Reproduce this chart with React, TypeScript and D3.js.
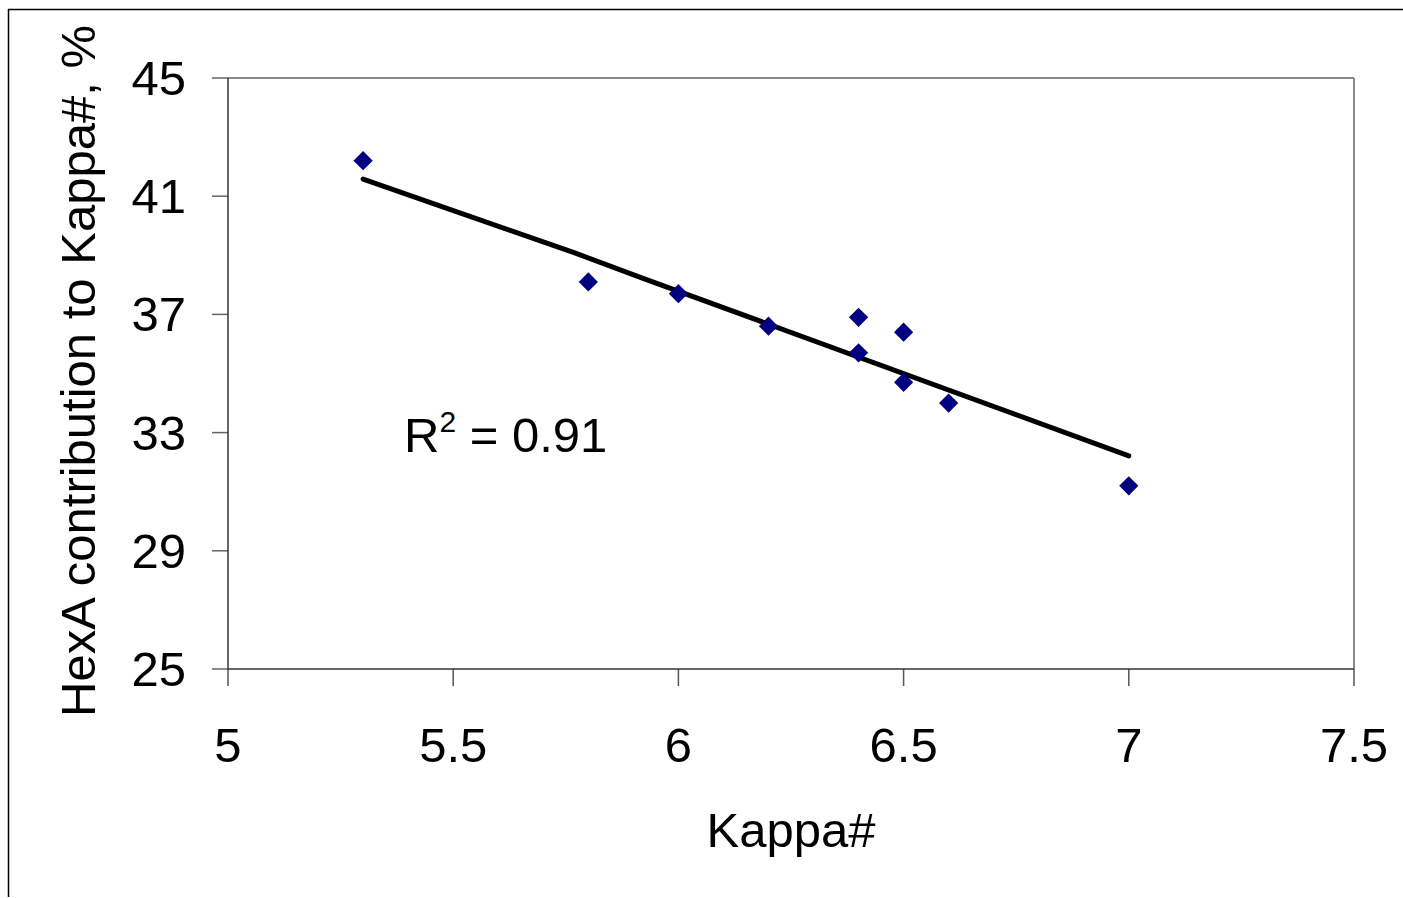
import React from "react";
import * as d3 from "d3";

// Measured samples: Kappa number vs HexA contribution (%)
const kappa = [5.3, 5.8, 6.0, 6.2, 6.4, 6.4, 6.5, 6.5, 6.6, 7.0];
const hexA = [42.2, 38.1, 37.7, 36.6, 36.9, 35.7, 36.4, 34.7, 34.0, 31.2];

// Trend line vertices
const trendKappa = [5.3, 5.77, 5.92, 7.0];
const trendHexA = [41.58, 39.08, 38.23, 32.21];

const xTicks = [5, 5.5, 6, 6.5, 7, 7.5];
const yTicks = [25, 29, 33, 37, 41, 45];

const xTitle = "Kappa#";
const yTitle = "HexA contribution to Kappa#, %";
const rSquared = "0.91";

const W = 1403;
const H = 898;
const plot = { left: 228, right: 1354, top: 78, bottom: 669 };
const font = "'Liberation Sans', Arial, sans-serif";

export default function App() {
  const x = d3.scaleLinear().domain([5, 7.5]).range([plot.left, plot.right]);
  const y = d3.scaleLinear().domain([25, 45]).range([plot.bottom, plot.top]);

  const trend = d3
    .line<number>()
    .x((_, i) => x(trendKappa[i]))
    .y((d) => y(d))(trendHexA);

  const diamond = d3.symbol(d3.symbolSquare, 185)() as string;

  return (
    <svg
      width={W}
      height={H}
      style={{ position: "absolute", left: 0, top: 0, display: "block", background: "#fff" }}
      fontFamily={font}
    >
      {/* outer chart frame */}
      <line x1={8} y1={9.5} x2={W} y2={9.5} stroke="#000" strokeWidth={1.5} />
      <line x1={8.5} y1={9} x2={8.5} y2={897} stroke="#000" strokeWidth={1.5} />

      {/* plot border: top and right */}
      <line x1={plot.left} y1={plot.top} x2={plot.right} y2={plot.top} stroke="#888" strokeWidth={2} />
      <line x1={plot.right} y1={plot.top} x2={plot.right} y2={plot.bottom} stroke="#888" strokeWidth={2} />

      {/* y ticks and labels */}
      {yTicks.map((t) => (
        <g key={"y" + t}>
          <line x1={plot.left - 16} x2={plot.left} y1={y(t)} y2={y(t)} stroke="#666" strokeWidth={1.5} />
          <text x={186} y={y(t) + 17} textAnchor="end" fontSize={49} fill="#000">
            {t}
          </text>
        </g>
      ))}

      {/* x ticks and labels */}
      {xTicks.map((t) => (
        <g key={"x" + t}>
          <line x1={x(t)} x2={x(t)} y1={plot.bottom} y2={plot.bottom + 17} stroke="#555" strokeWidth={1.5} />
          <text x={x(t)} y={762} textAnchor="middle" fontSize={49} fill="#000">
            {t}
          </text>
        </g>
      ))}

      {/* axes */}
      <line x1={plot.left} y1={plot.top} x2={plot.left} y2={plot.bottom} stroke="#333" strokeWidth={1.5} />
      <line x1={plot.left} y1={plot.bottom} x2={plot.right} y2={plot.bottom} stroke="#333" strokeWidth={1.5} />

      {/* trend line */}
      <path d={trend ?? ""} fill="none" stroke="#000" strokeWidth={5} strokeLinecap="round" strokeLinejoin="round" />

      {/* data points */}
      {kappa.map((k, i) => (
        <path
          key={"p" + i}
          d={diamond}
          transform={`translate(${x(k)},${y(hexA[i])}) rotate(45)`}
          fill="#000080"
        />
      ))}

      {/* R² annotation */}
      <text x={404} y={452} fontSize={49} fill="#000">
        R
        <tspan fontSize={30} dy={-20}>
          2
        </tspan>
        <tspan dy={20}>{" = " + rSquared}</tspan>
      </text>

      {/* axis titles */}
      <text x={(plot.left + plot.right) / 2} y={847} textAnchor="middle" fontSize={49} fill="#000">
        {xTitle}
      </text>
      <text
        transform={`translate(95,${371}) rotate(-90)`}
        textAnchor="middle"
        fontSize={49}
        fill="#000"
      >
        {yTitle}
      </text>
    </svg>
  );
}
